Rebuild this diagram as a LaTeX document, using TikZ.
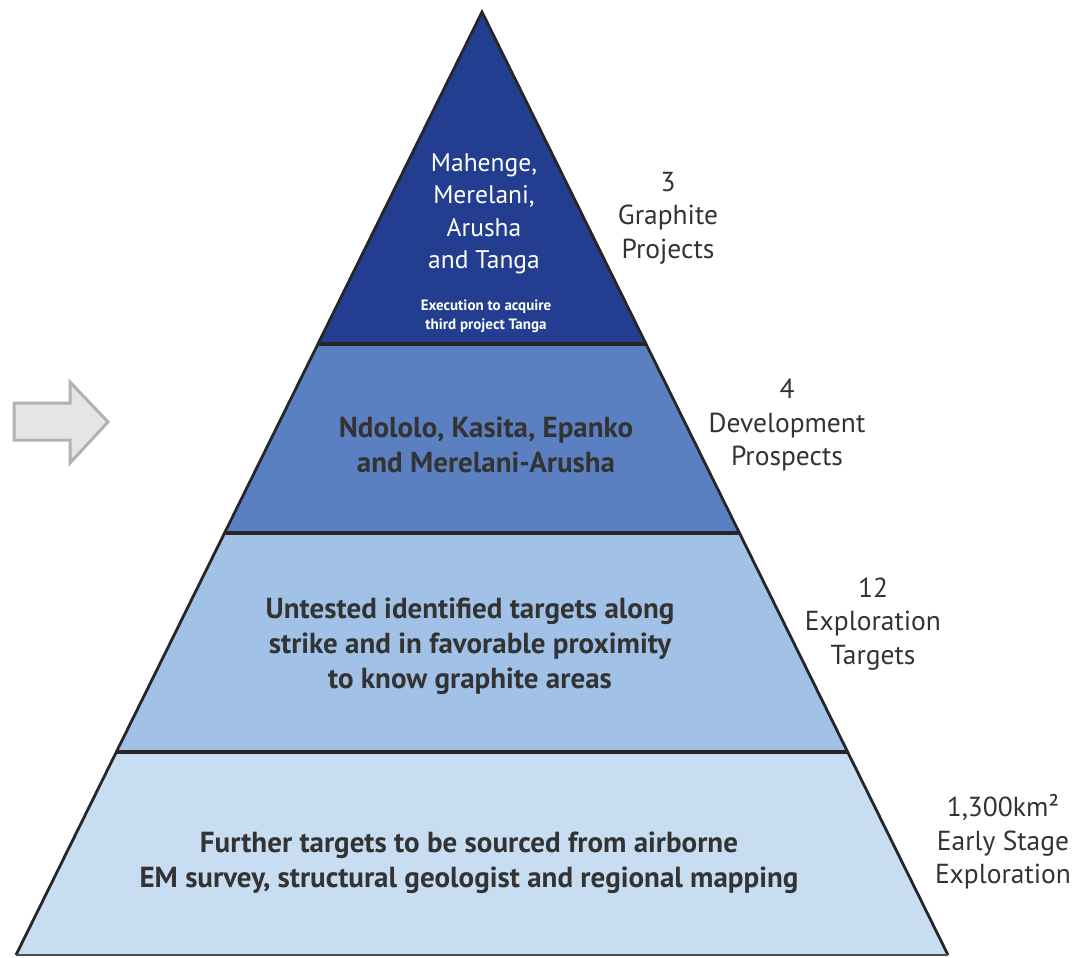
\documentclass[tikz,border=0pt]{standalone}
\usepackage{fontspec}
\setmainfont{PT Sans}
\definecolor{tierA}{HTML}{233E91}
\definecolor{tierB}{HTML}{5A80C2}
\definecolor{tierC}{HTML}{A1C1E7}
\definecolor{tierD}{HTML}{C8DCF2}
\definecolor{inkgray}{HTML}{333333}

\begin{document}
\begin{tikzpicture}[x=1pt,y=-1pt,
  edgeline/.style={draw=black!85,line width=3.4pt},
  lbl/.style={align=center,text=inkgray,font=\fontsize{27.5}{33.5}\selectfont},
  tiertext/.style={align=center,text=inkgray,font=\bfseries\fontsize{29}{35}\selectfont}]
    \useasboundingbox (0,0) rectangle (1077,958);

    % corners of the pyramid
    \coordinate (top) at (482,12);
    \coordinate (L1) at (318,344);   \coordinate (R1) at (646,344);
    \coordinate (L2) at (224.5,533); \coordinate (R2) at (739.5,533);
    \coordinate (L3) at (116.3,752); \coordinate (R3) at (847.7,752);
    \coordinate (L4) at (16,955);    \coordinate (R4) at (948,955);

    % tiers
    \fill[tierA] (top) -- (R1) -- (L1) -- cycle;
    \fill[tierB] (L1) -- (R1) -- (R2) -- (L2) -- cycle;
    \fill[tierC] (L2) -- (R2) -- (R3) -- (L3) -- cycle;
    \fill[tierD] (L3) -- (R3) -- (R4) -- (L4) -- cycle;

    \draw[edgeline] (L1) -- (R1);
    \draw[edgeline] (L2) -- (R2);
    \draw[edgeline] (L3) -- (R3);
    \draw[edgeline,line width=2.8pt,line join=miter] (L4) -- (top) -- (R4);
    \draw[edgeline,draw=black!70,line width=1.5pt] (L4) -- (R4);

    % arrow on the left
    \draw[fill=black!10,draw=black!30,line width=3pt]
        (14,403) -- (70,403) -- (70,382) -- (108,422) -- (70,463) -- (70,440) -- (14,440) -- cycle;

    % texts inside the tiers
    \node[align=center,text=white,font=\fontsize{25.5}{32.5}\selectfont] (t1) at (484,214)
        {Mahenge,\\Merelani,\\Arusha\\and Tanga};
    \node[align=center,text=white,font=\bfseries\fontsize{15}{19}\selectfont] (t1b) at (486,316)
        {Execution to acquire\\third project Tanga};
    \node[tiertext] (t2) at (486,445) {Ndololo, Kasita, Epanko\\and Merelani-Arusha};
    \node[tiertext] (t3) at (470,646) {Untested identified targets along\\strike and in favorable proximity\\to know graphite areas};
    \node[tiertext] (t4) at (469,863) {Further targets to be sourced from airborne\\EM survey, structural geologist and regional mapping};

    % counts on the right
    \node[lbl] (n1) at (668,218) {3\\Graphite\\Projects};
    \node[lbl] (n2) at (787,425) {4\\Development\\Prospects};
    \node[lbl] (n3) at (873,624) {12\\Exploration\\Targets};
    \node[lbl] (n4) at (1003,842) {1,300km²\\Early Stage\\Exploration};
\end{tikzpicture}
\end{document}
